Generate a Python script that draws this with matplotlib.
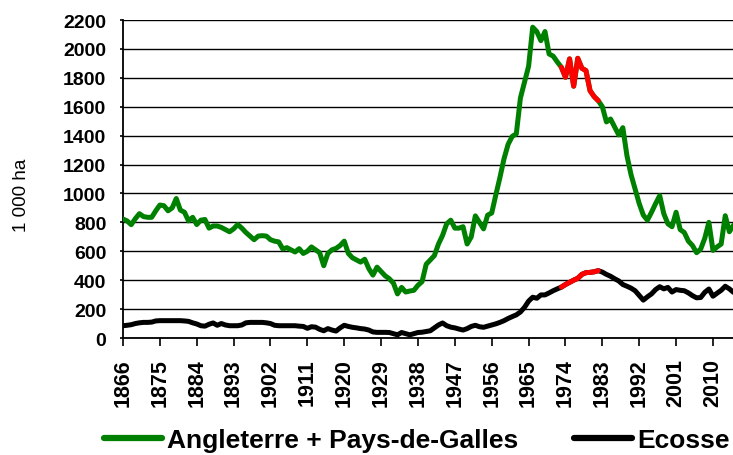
import matplotlib
matplotlib.use("Agg")
import matplotlib.pyplot as plt
from matplotlib.lines import Line2D

# Annual area, thousands of hectares
years = list(range(1866, 2016))

england_wales = [
    823, 810, 784, 825, 860, 840, 835, 835, 880, 920,      # 1866-1875
    915, 880, 900, 965, 885, 870, 810, 835, 785, 815,      # 1876-1885
    820, 760, 775, 775, 765, 750, 735, 755, 785, 760,      # 1886-1895
    730, 705, 680, 705, 708, 705, 680, 670, 665, 616,      # 1896-1905
    625, 610, 595, 618, 585, 600, 630, 610, 590, 500,      # 1906-1915
    585, 610, 620, 640, 670, 585, 555, 540, 525, 545,      # 1916-1925
    480, 435, 490, 460, 430, 410, 380, 305, 350, 318,      # 1926-1935
    325, 330, 365, 390, 510, 540, 570, 650, 710, 790,      # 1936-1945
    815, 760, 760, 770, 650, 700, 845, 800, 755, 850,      # 1946-1955
    865, 990, 1110, 1240, 1340, 1395, 1412, 1660, 1770, 1880,  # 1956-1965
    2150, 2120, 2057, 2120, 1965, 1950, 1910, 1873, 1804, 1931,  # 1966-1975
    1742, 1935, 1866, 1850, 1711, 1670, 1642, 1600, 1495, 1515,  # 1976-1985
    1460, 1405, 1455, 1262, 1130, 1031, 930, 850, 815, 870,    # 1986-1995
    930, 985, 860, 790, 770, 870, 750, 730, 670, 640,      # 1996-2005
    590, 615, 690, 800, 606, 630, 650, 846, 735, 780,      # 2006-2015
]

scotland = [
    85, 88, 92, 100, 105, 108, 108, 110, 118, 120,         # 1866-1875
    120, 120, 120, 120, 120, 118, 115, 105, 97, 85,        # 1876-1885
    82, 95, 104, 88, 100, 90, 85, 85, 85, 90,              # 1886-1895
    105, 108, 108, 108, 108, 105, 100, 88, 85, 85,         # 1896-1905
    85, 85, 85, 82, 80, 67, 78, 75, 60, 50,                # 1906-1915
    65, 55, 48, 70, 88, 80, 74, 70, 65, 62,                # 1916-1925
    55, 42, 39, 39, 39, 38, 30, 22, 38, 30,                # 1926-1935
    22, 30, 38, 40, 45, 50, 70, 90, 104, 85,               # 1936-1945
    75, 70, 62, 55, 65, 80, 88, 78, 74, 82,                # 1946-1955
    90, 98, 108, 120, 135, 148, 160, 180, 212, 255,        # 1956-1965
    282, 275, 298, 298, 312, 327, 340, 352, 370, 385,      # 1966-1975
    400, 413, 440, 452, 454, 458, 466, 456, 440, 427,      # 1976-1985
    410, 395, 370, 358, 345, 327, 295, 262, 285, 305,      # 1986-1995
    335, 355, 340, 350, 318, 335, 330, 327, 312, 293,      # 1996-2005
    278, 280, 316, 339, 289, 310, 330, 358, 340, 316,      # 2006-2015
]

# Years taken from a different source, highlighted in red
highlight_start, highlight_end = 1973, 1982

series_labels = ["Angleterre + Pays-de-Galles", "Ecosse"]
series_colors = ["#008000", "#000000"]
highlight_color = "#FF0000"

y_ticks = list(range(0, 2201, 200))
x_ticks = list(range(1866, 2011, 9))

W, H = 733, 456
fig = plt.figure(figsize=(W / 100, H / 100), dpi=100)
ax = fig.add_axes([123 / W, 1 - 339 / H, (W - 123) / W, (339 - 21) / H])

line_kw = dict(linewidth=3.6, solid_joinstyle="round", solid_capstyle="round")
for values, color in zip([england_wales, scotland], series_colors):
    ax.plot(years, values, color=color, zorder=3, **line_kw)
    i0 = years.index(highlight_start)
    i1 = years.index(highlight_end) + 1
    ax.plot(years[i0:i1], values[i0:i1], color=highlight_color, zorder=4, **line_kw)

ax.set_xlim(1866, 1866 + (W - 123) / 4.097)
ax.set_ylim(0, 2200)
ax.set_yticks(y_ticks)
ax.set_xticks(x_ticks)
ax.set_xticklabels([str(y) for y in x_ticks], rotation=90, va="top")

tick_font = dict(family="Liberation Sans", weight="bold")
for lab in ax.get_yticklabels():
    lab.set_fontproperties(tick_font)
    lab.set_fontsize(14)
for lab in ax.get_xticklabels():
    lab.set_fontproperties(tick_font)
    lab.set_fontsize(15.5)

ax.grid(axis="y", color="black", linewidth=1.0, zorder=1)
ax.set_axisbelow(True)
for side in ["top", "right"]:
    ax.spines[side].set_visible(False)
for side in ["left", "bottom"]:
    ax.spines[side].set_color("black")
    ax.spines[side].set_linewidth(1.3)
ax.tick_params(axis="y", length=2, width=1.2, pad=10, colors="black")
ax.tick_params(axis="x", length=5.5, width=1.2, pad=9, colors="black")

fig.text(22 / W, 1 - 195 / H, "1 000 ha", rotation=90, ha="center", va="center",
         fontsize=13.5, family="Liberation Sans")

handles = [Line2D([], [], color=c, linewidth=4.5, solid_capstyle="round") for c in series_colors]
fig.legend(handles, series_labels, loc="center", bbox_to_anchor=(417 / W, 1 - 441 / H),
           ncol=2, frameon=False, handlelength=2.2, handletextpad=0.2,
           columnspacing=2.1, borderpad=0,
           prop=dict(family="Liberation Sans", weight="bold", size=19))

fig.savefig("out.png", dpi=100)
